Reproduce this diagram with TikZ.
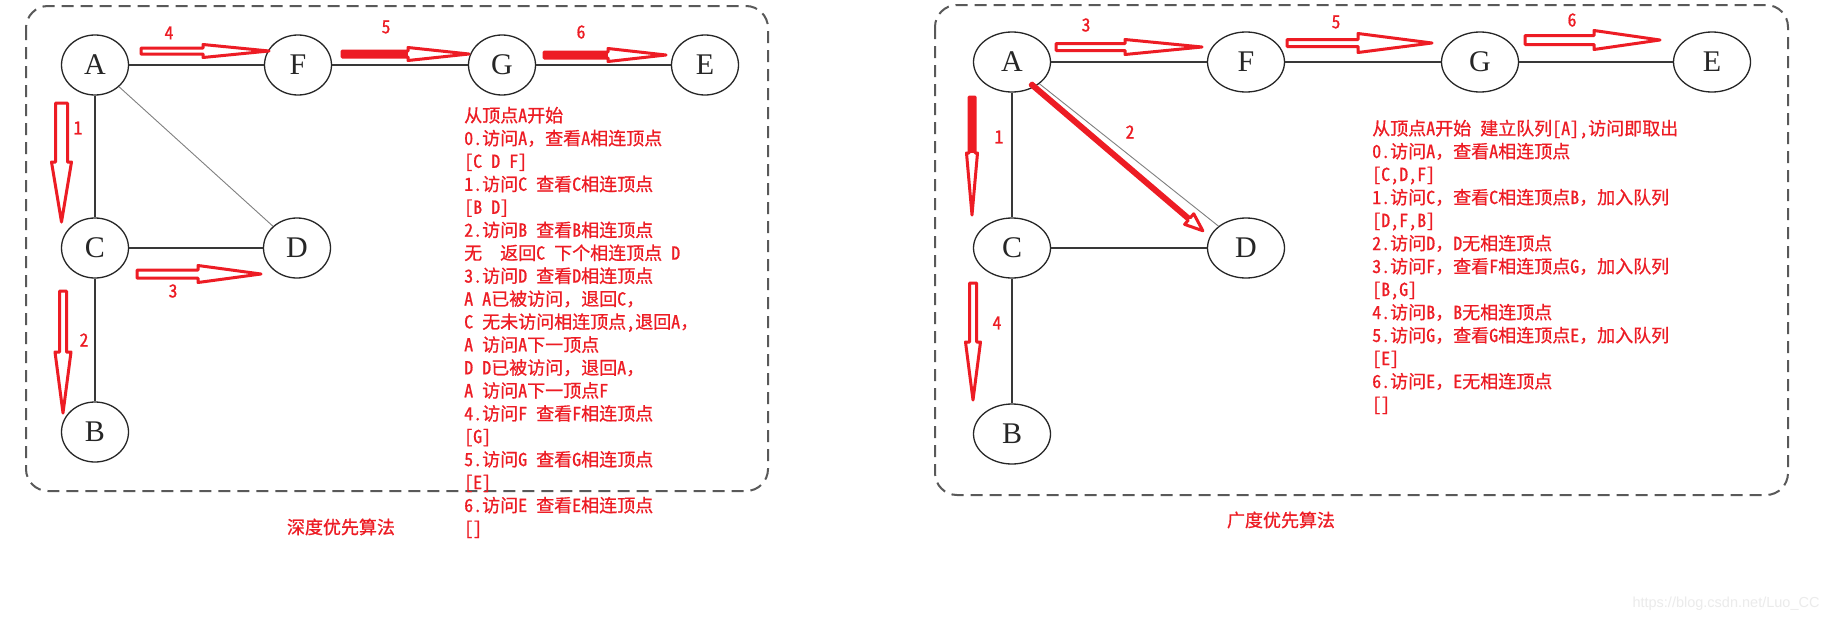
\documentclass[tikz,border=0pt]{standalone}
\usepackage{fontspec}
\usetikzlibrary{shapes.geometric}
\newfontfamily\cjk[FakeBold=0.8]{Noto Sans Mono CJK SC}
\newfontfamily\serifletters{Liberation Serif}
\newfontfamily\wmfont{Liberation Sans}
\definecolor{pred}{HTML}{ED1C24}
\newcommand{\blockarr}[7]{%
  \begin{scope}[shift={(#1)}, rotate=#2]
    \draw[arrowline] (0,-#4) -- ({#3-#6},-#4) -- ({#3-#6},-#5) -- (#3,0) -- ({#3-#6},#5) -- ({#3-#6},#4) -- (0,#4) -- cycle;
    \path[fill=#7] (0,-#4) rectangle ({#3-#6},#4);
  \end{scope}}
\tikzset{
  vertex/.style={ellipse, draw=black!85, line width=1.3pt, minimum width=67pt, minimum height=60pt, inner sep=0pt,
    font=\serifletters\fontsize{30}{30}\selectfont, text=black!85},
  vertexR/.style={vertex, minimum width=77pt},
  edge/.style={draw=black!78, line width=1.6pt},
  thinedge/.style={draw=black!50, line width=0.9pt},
  redtxt/.style={text=pred, font=\cjk\fontsize{18}{18}\selectfont, inner sep=0pt, anchor=base west},
  numlbl/.style={text=pred, font=\cjk\fontsize{18}{18}\selectfont, inner sep=0pt},
  frame/.style={draw=black!65, line width=2pt, dash pattern=on 12pt off 7pt, rounded corners=22pt},
  arrowline/.style={draw=pred, line width=3pt, fill=white, line join=round},
}
\begin{document}
\begin{tikzpicture}[x=1pt, y=-1pt]
\useasboundingbox[fill=white] (0,0) rectangle (1837,624);

% frames
\draw[frame] (26,6) rectangle (768,491);
\draw[frame] (935,5) rectangle (1788,495);

% ---------- left graph (DFS) ----------
\node[vertex] (lA) at (95,65) {A};
\node[vertex] (lF) at (298,65) {F};
\node[vertex] (lG) at (502,65) {G};
\node[vertex] (lE) at (705,65) {E};
\node[vertex] (lC) at (95,248) {C};
\node[vertex] (lD) at (297,248) {D};
\node[vertex] (lB) at (95,432) {B};
\draw[edge] (lA) -- (lF);
\draw[edge] (lF) -- (lG);
\draw[edge] (lG) -- (lE);
\draw[edge] (lA) -- (lC);
\draw[edge] (lC) -- (lB);
\draw[edge, line width=1.1pt] (lC) -- (lD);
\draw[thinedge] (lA) -- (lD);

\coordinate (la1) at (61.5,103);
\coordinate (la2) at (63,291);
\coordinate (la3) at (137,274);
\coordinate (la4) at (141,51);
\coordinate (la5) at (342,54);
\coordinate (la6) at (544,55);
\blockarr{la1}{-90}{119}{6}{10}{60}{none}
\blockarr{la2}{-90}{122}{3.5}{8}{61}{none}
\blockarr{la3}{0}{124}{4}{8.5}{63}{none}
\blockarr{la4}{0}{128}{3}{6.5}{66}{none}
\blockarr{la5}{0}{127}{3}{6.5}{61}{pred}
\blockarr{la6}{0}{122}{3}{6.5}{58}{pred}
\node[numlbl] (ln1) at (78,128) {1};
\node[numlbl] (ln2) at (84,340) {2};
\node[numlbl] (ln3) at (173,291) {3};
\node[numlbl] (ln4) at (169,33) {4};
\node[numlbl] (ln5) at (386,27) {5};
\node[numlbl] (ln6) at (581,32) {6};

\foreach \t [count=\i] in {
  {从顶点A开始},
  {0.访问A，查看A相连顶点},
  {[C\ D\ F]},
  {1.访问C\ 查看C相连顶点},
  {[B\ D]},
  {2.访问B\ 查看B相连顶点},
  {无\ \ 返回C\ 下个相连顶点\ D},
  {3.访问D\ 查看D相连顶点},
  {A\ A已被访问，退回C，},
  {C\ 无未访问相连顶点,退回A，},
  {A\ 访问A下一顶点},
  {D\ D已被访问，退回A，},
  {A\ 访问A下一顶点F},
  {4.访问F\ 查看F相连顶点},
  {[G]},
  {5.访问G\ 查看G相连顶点},
  {[E]},
  {6.访问E\ 查看E相连顶点},
  {[]}}
  \node[redtxt] (lt\i) at (464,{122+22.94*(\i-1)}) {\t};

\node[numlbl] (capL) at (341,527) {深度优先算法};

% ---------- right graph (BFS) ----------
\node[vertexR] (rA) at (1012,62) {A};
\node[vertexR] (rF) at (1246,62) {F};
\node[vertexR] (rG) at (1480,62) {G};
\node[vertexR] (rE) at (1712,62) {E};
\node[vertexR] (rC) at (1012,248) {C};
\node[vertexR] (rD) at (1246,248) {D};
\node[vertexR] (rB) at (1012,434) {B};
\draw[edge] (rA) -- (rF);
\draw[edge] (rF) -- (rG);
\draw[edge] (rG) -- (rE);
\draw[edge] (rA) -- (rC);
\draw[edge] (rC) -- (rB);
\draw[edge, line width=1.1pt] (rC) -- (rD);
\draw[thinedge] (rA) -- (rD);

\coordinate (ra1) at (972,97);
\coordinate (ra2) at (1031,84);
\coordinate (ra3) at (1056,47);
\coordinate (ra4) at (973,283);
\coordinate (ra5) at (1287,43);
\coordinate (ra6) at (1525,40);
\blockarr{ra1}{-90}{118}{3}{5.5}{62}{pred}
\blockarr{ra2}{-40.5}{226}{1.5}{7}{18}{pred}
\blockarr{ra3}{0}{146}{3.5}{7.5}{77}{none}
\blockarr{ra4}{-90}{117}{3.5}{7.5}{58}{none}
\blockarr{ra5}{0}{145}{3.5}{9.5}{74}{none}
\blockarr{ra6}{0}{135}{4.5}{9.5}{66}{none}
\node[numlbl] (rn1) at (999,137) {1};
\node[numlbl] (rn2) at (1130,132) {2};
\node[numlbl] (rn3) at (1086,25) {3};
\node[numlbl] (rn4) at (997,323) {4};
\node[numlbl] (rn5) at (1336,22) {5};
\node[numlbl] (rn6) at (1572,20) {6};

\foreach \t [count=\i] in {
  {从顶点A开始\ 建立队列[A],访问即取出},
  {0.访问A，查看A相连顶点},
  {[C,D,F]},
  {1.访问C，查看C相连顶点B，加入队列},
  {[D,F,B]},
  {2.访问D，D无相连顶点},
  {3.访问F，查看F相连顶点G，加入队列},
  {[B,G]},
  {4.访问B，B无相连顶点},
  {5.访问G，查看G相连顶点E，加入队列},
  {[E]},
  {6.访问E，E无相连顶点},
  {[]}}
  \node[redtxt] (rt\i) at (1372,{135+23*(\i-1)}) {\t};

\node[numlbl] (capR) at (1281,520) {广度优先算法};

\node[font=\wmfont\fontsize{14.5}{14.5}\selectfont, text=black!8, inner sep=0pt] (wm) at (1726,604) {https://blog.csdn.net/Luo\_CC};
\end{tikzpicture}
\end{document}
